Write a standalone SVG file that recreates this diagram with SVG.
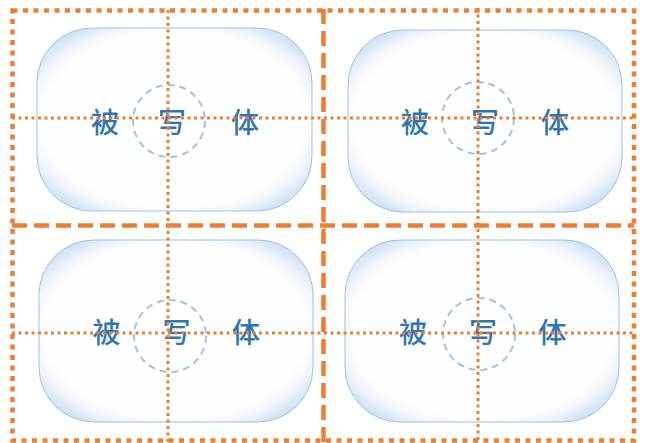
<svg xmlns="http://www.w3.org/2000/svg" width="646" height="443" viewBox="0 0 646 443">
<defs>
<radialGradient id="glow" cx="0.5" cy="0.5" r="0.6">
<stop offset="0" stop-color="#ffffff"/>
<stop offset="0.8" stop-color="#fdfeff"/>
<stop offset="0.88" stop-color="#f3f7fc"/>
<stop offset="1" stop-color="#d3e2f4"/>
</radialGradient>
<style>
.card{fill:url(#glow);stroke:#9dc3e6;stroke-width:1}
.ring{fill:none;stroke:#9dc3e6;stroke-width:2;stroke-dasharray:7 5}
.lbl{font-family:"Noto Sans CJK SC","Noto Sans CJK JP",sans-serif;font-size:28px;font-weight:500;fill:#2e75b6;text-anchor:middle;dominant-baseline:central}
.dot{fill:none;stroke:#ed7d31;stroke-width:4.5;stroke-dasharray:5 5.5}
.dash{fill:none;stroke:#ed7d31;stroke-width:4.5;stroke-dasharray:15 7}
.guide{fill:none;stroke:#ed7d31;stroke-width:3;stroke-dasharray:3 3.5}
</style>
</defs>
<g id="panel-1">
<rect class="card" x="37" y="28" width="275" height="183" rx="55" ry="55"/>
<circle class="ring" cx="169" cy="121" r="36"/>
<text class="lbl" x="105" y="121">被</text>
<text class="lbl" x="172" y="121">写</text>
<text class="lbl" x="245" y="121">体</text>
</g>
<g id="panel-2">
<rect class="card" x="348" y="30" width="274" height="182" rx="55" ry="55"/>
<circle class="ring" cx="478" cy="118" r="36"/>
<text class="lbl" x="415" y="121">被</text>
<text class="lbl" x="485" y="121">写</text>
<text class="lbl" x="555" y="121">体</text>
</g>
<g id="panel-3">
<rect class="card" x="39" y="240" width="274" height="182" rx="55" ry="55"/>
<circle class="ring" cx="170" cy="336" r="36"/>
<text class="lbl" x="106.5" y="331">被</text>
<text class="lbl" x="176.5" y="331">写</text>
<text class="lbl" x="246" y="331">体</text>
</g>
<g id="panel-4">
<rect class="card" x="345" y="240" width="274" height="182" rx="55" ry="55"/>
<circle class="ring" cx="479" cy="334" r="36"/>
<text class="lbl" x="413" y="331">被</text>
<text class="lbl" x="483" y="331">写</text>
<text class="lbl" x="552.5" y="331">体</text>
</g>
<g id="connectors">
<line class="guide" x1="168" y1="10" x2="168" y2="442"/>
<line class="guide" x1="478" y1="8" x2="478" y2="441"/>
<line class="guide" x1="12" y1="118" x2="634" y2="118"/>
<line class="guide" x1="12" y1="333" x2="634" y2="333"/>
<rect class="dot" x="12.5" y="10.5" width="621.5" height="430"/>
<line class="dash" x1="323.5" y1="9" x2="323.5" y2="442"/>
<line class="dash" x1="12" y1="225.5" x2="634" y2="225.5"/>
</g>
</svg>
